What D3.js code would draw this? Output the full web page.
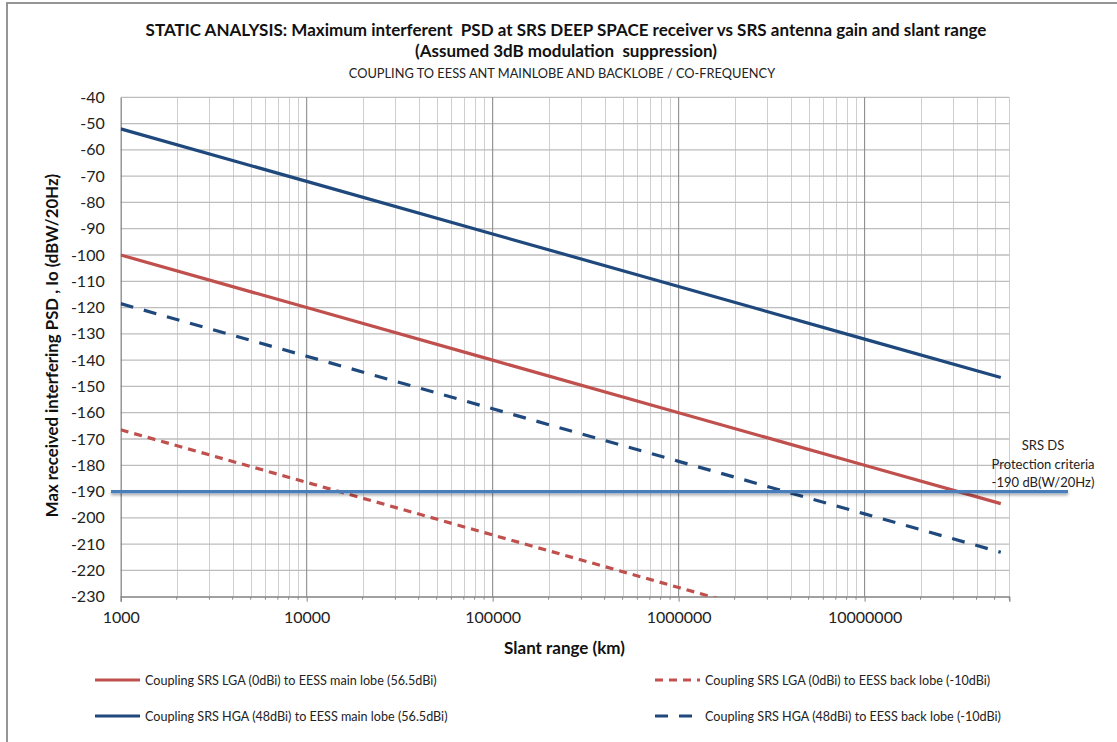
<!DOCTYPE html>
<html><head><meta charset="utf-8">
<script src="https://cdn.jsdelivr.net/npm/d3@7"></script>
<style>
html,body{margin:0;padding:0;background:#fff;}
svg{display:block;font-family:Lato,"Open Sans",sans-serif;}
text{white-space:pre;}
</style></head>
<body>
<svg id="c" width="1117" height="742"></svg>
<script>
// ---- data ----
const slantRange = [1e3, 1e4, 1e5, 1e6, 1e7, 5.4e7];
const lgaMain = [-100, -120, -140, -160, -180, -194.6];
const hgaMain = [-52, -72, -92, -112, -132, -146.6];
const lgaBack = [-166.5, -186.5, -206.5, -226.5, -246.5, -261.1];
const hgaBack = [-118.5, -138.5, -158.5, -178.5, -198.5, -213.1];
const protectionLevel = -190;
const xTickValues = [1e3, 1e4, 1e5, 1e6, 1e7];
const yTickValues = d3.range(-230, -39, 10);
const seriesNames = [
  "Coupling SRS LGA (0dBi) to EESS main lobe (56.5dBi)",
  "Coupling SRS HGA (48dBi) to EESS main lobe (56.5dBi)",
  "Coupling SRS LGA (0dBi) to EESS back lobe (-10dBi)",
  "Coupling SRS HGA (48dBi) to EESS back lobe (-10dBi)"
];
const titleLines = [
  "STATIC ANALYSIS: Maximum interferent  PSD at SRS DEEP SPACE receiver vs SRS antenna gain and slant range",
  "(Assumed 3dB modulation  suppression)"
];
const subtitle = "COUPLING TO EESS ANT MAINLOBE AND BACKLOBE / CO-FREQUENCY";
const annotation = ["SRS DS", "Protection criteria", "-190 dB(W/20Hz)"];

const RED = "#C0504D", BLUE = "#1F497D", STEEL = "#4A7EBB";

const svg = d3.select("#c");
const defs = svg.append("defs");
const m = {l: 120.7, r: 1009.3, t: 97.3, b: 596.7};
const x = d3.scaleLog().domain([1e3, 6e7]).range([m.l, m.r]);
const y = d3.scaleLinear().domain([-230, -40]).range([m.b, m.t]);

defs.append("clipPath").attr("id", "plotclip").append("rect")
  .attr("x", m.l).attr("y", m.t).attr("width", m.r - m.l).attr("height", m.b - m.t);
const f = defs.append("filter").attr("id", "shadow").attr("filterUnits", "userSpaceOnUse")
  .attr("x", 90).attr("y", 470).attr("width", 1000).attr("height", 45);
f.append("feDropShadow").attr("dx", 0).attr("dy", 2).attr("stdDeviation", 1.6)
  .attr("flood-color", "#000").attr("flood-opacity", 0.35);

svg.append("rect").attr("width", 1117).attr("height", 742).attr("fill", "#fff");
// chart border
svg.append("rect").attr("x", 7).attr("y", 3).attr("width", 1130).attr("height", 760)
  .attr("fill", "none").attr("stroke", "#8a8a8a").attr("stroke-width", 1.8);

// titles
svg.append("text").attr("x", 566).attr("y", 36).attr("text-anchor", "middle")
  .attr("font-weight", "bold").attr("font-size", 17).attr("fill", "#111").text(titleLines[0]);
svg.append("text").attr("x", 566).attr("y", 57).attr("text-anchor", "middle")
  .attr("font-weight", "bold").attr("font-size", 17).attr("fill", "#111").text(titleLines[1]);
svg.append("text").attr("x", 562).attr("y", 78).attr("text-anchor", "middle")
  .attr("font-size", 12.8).attr("fill", "#222").text(subtitle);

// grid
const minorX = [];
for (let d = 1e3; d < 6e7; d *= 10) for (let k = 2; k <= 9; k++) if (k * d <= 6e7) minorX.push(k * d);
const g = svg.append("g");
g.selectAll(".mx").data(minorX).join("line")
  .attr("x1", d => Math.round(x(d)) + 0.5).attr("x2", d => Math.round(x(d)) + 0.5)
  .attr("y1", m.t).attr("y2", m.b).attr("stroke", "#cfcfcf").attr("stroke-width", 1);
g.selectAll(".hy").data(yTickValues).join("line")
  .attr("x1", m.l).attr("x2", m.r)
  .attr("y1", d => y(d)).attr("y2", d => y(d)).attr("stroke", "#bdbdbd").attr("stroke-width", 1.3);
g.selectAll(".Mx").data(xTickValues.slice(1)).join("line")
  .attr("x1", d => x(d)).attr("x2", d => x(d))
  .attr("y1", m.t).attr("y2", m.b).attr("stroke", "#8c8c8c").attr("stroke-width", 1.1);

// axes
const xAxis = d3.axisBottom(x).tickValues(xTickValues).tickFormat(d => String(d)).tickSize(5).tickPadding(10);
const gx = svg.append("g").attr("transform", `translate(0,${m.b})`).call(xAxis);
gx.select(".domain").attr("stroke", "#868686").attr("stroke-width", 1.3);
gx.selectAll(".tick line").attr("stroke", "#868686");
gx.selectAll("text").attr("font-size", 16).attr("fill", "#222").attr("font-family", "Lato");
gx.selectAll(".minor").data(minorX).join("line").attr("class", "minor")
  .attr("x1", d => x(d)).attr("x2", d => x(d)).attr("y1", 0).attr("y2", 3).attr("stroke", "#868686");

const yAxis = d3.axisLeft(y).tickValues(yTickValues).tickFormat(d => String(d)).tickSize(0).tickPadding(16);
const gy = svg.append("g").attr("transform", `translate(${m.l},0)`).call(yAxis);
gy.select(".domain").attr("stroke", "#868686").attr("stroke-width", 1.3);
gy.selectAll("text").attr("font-size", 16).attr("fill", "#222").attr("font-family", "Lato");

// axis titles
svg.append("text").attr("transform", "translate(58,345.5) rotate(-90)").attr("text-anchor", "middle")
  .attr("font-weight", "bold").attr("font-size", 16.8).attr("fill", "#111")
  .text("Max received interfering PSD , Io (dBW/20Hz)");
svg.append("text").attr("x", 564.5).attr("y", 654).attr("text-anchor", "middle")
  .attr("font-weight", "bold").attr("font-size", 17).attr("fill", "#111").text("Slant range (km)");

// series
const series = [
  {vals: lgaMain, color: RED, dash: null},
  {vals: hgaMain, color: BLUE, dash: null},
  {vals: lgaBack, color: RED, dash: "8,6"},
  {vals: hgaBack, color: BLUE, dash: "13,11"}
];
const line = d3.line().x((d, i) => x(slantRange[i])).y(d => y(d));
const pg = svg.append("g").attr("clip-path", "url(#plotclip)");
series.forEach(s => {
  pg.append("path").attr("d", line(s.vals)).attr("fill", "none")
    .attr("stroke", s.color).attr("stroke-width", 3.2)
    .attr("stroke-dasharray", s.dash);
});

// protection line (drawn shape, extends beyond plot)
svg.append("line").attr("x1", 111).attr("x2", 1068)
  .attr("y1", y(protectionLevel)).attr("y2", y(protectionLevel))
  .attr("stroke", STEEL).attr("stroke-width", 3.2).attr("filter", "url(#shadow)");
svg.append("g").selectAll("text").data(annotation).join("text")
  .attr("x", 1043).attr("y", (d, i) => 450 + i * 18.5).attr("text-anchor", "middle")
  .attr("font-size", 13).attr("fill", "#222").text(d => d);

// legend
const leg = [
  {x: 95, y: 680, s: series[0], name: seriesNames[0]},
  {x: 95, y: 716, s: series[1], name: seriesNames[1]},
  {x: 655, y: 680, s: series[2], name: seriesNames[2]},
  {x: 655, y: 716, s: series[3], name: seriesNames[3]}
];
const lg = svg.append("g").selectAll("g").data(leg).join("g");
lg.append("line").attr("x1", d => d.x).attr("x2", d => d.x + 45)
  .attr("y1", d => d.y).attr("y2", d => d.y)
  .attr("stroke", d => d.s.color).attr("stroke-width", 3.2)
  .attr("stroke-dasharray", d => d.s.dash);
lg.append("text").attr("x", d => d.x + 50).attr("y", d => d.y + 4.5)
  .attr("font-size", 12.6).attr("fill", "#222").text(d => d.name);
</script>
</body></html>
